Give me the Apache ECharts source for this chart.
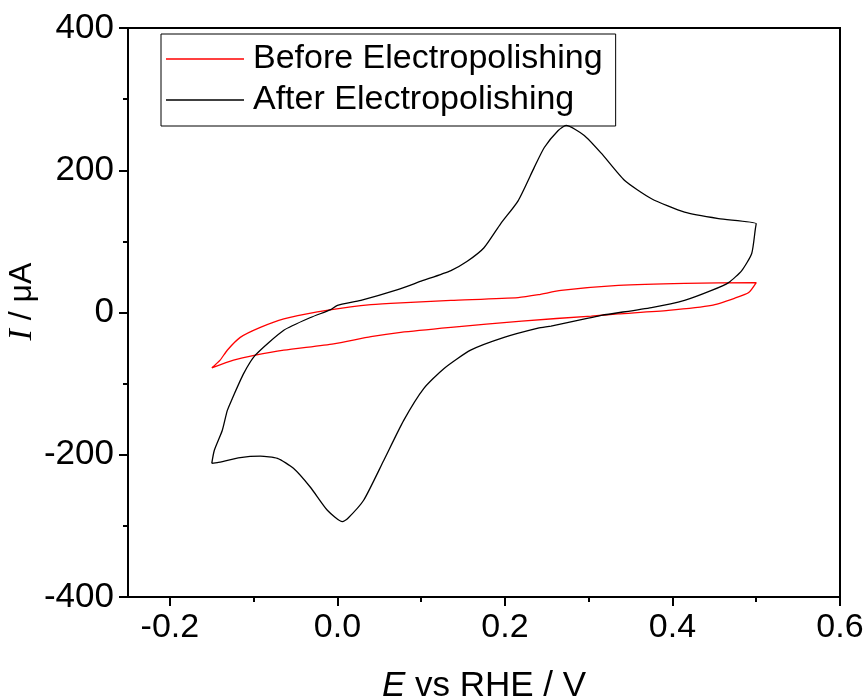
<!DOCTYPE html>
<html>
<head>
<meta charset="UTF-8">
<title>CV before / after electropolishing</title>
<script src="https://cdn.jsdelivr.net/npm/echarts@6/dist/echarts.min.js"></script>
<style>
  html, body { margin: 0; padding: 0; background: #fff; }
  #main { width: 865px; height: 700px; }
</style>
</head>
<body>
<div id="main"></div>
<script>
// potential (V vs RHE) and current (uA)
var beforeE = [-0.15, -0.14, -0.1315, -0.116, -0.092, -0.064, -0.024, 0.0158, 0.04, 0.0756, 0.1355, 0.2157, 0.24, 0.267, 0.3354, 0.4144, 0.5,
  0.491, 0.474, 0.4467, 0.395, 0.335, 0.303, 0.22, 0.1355, 0.0756, 0.04, -0.0046, -0.064, -0.098, -0.124, -0.15];
var beforeI = [-78, -67, -53, -35, -21, -9, 1, 8, 11, 13.5, 17, 21, 25, 31, 38, 41, 42,
  28, 20, 10, 3, -2, -5, -12, -21, -28, -34, -44, -53, -60, -67, -78];

var afterE = [-0.15, -0.147, -0.1375, -0.1315, -0.1255, -0.112, -0.098, -0.064, -0.032, -0.008, 0.0, 0.028, 0.072, 0.1, 0.1355, 0.155, 0.175, 0.195, 0.2157, 0.235, 0.247, 0.2636, 0.273, 0.2947, 0.315, 0.3426, 0.375, 0.4144, 0.455, 0.5,
  0.499, 0.4946, 0.4827, 0.467, 0.4467, 0.4144, 0.375, 0.315, 0.2995, 0.255, 0.2396, 0.199, 0.159, 0.127, 0.103, 0.079, 0.0553, 0.0313, 0.012, 0.006, -0.012, -0.032, -0.0525, -0.0716, -0.092, -0.116, -0.1434, -0.15];
var afterI = [-212, -194, -166, -138, -121, -86, -60, -25, -7, 4, 10, 17, 32, 44, 59, 72, 91, 125, 157, 204, 232, 256, 263, 249, 224, 186, 160, 141, 132, 125,
  118, 83, 59, 42, 31, 17, 7, -4, -8, -19, -22, -35, -53, -79, -107, -152, -208, -264, -290, -294, -278, -246, -219, -205, -202, -204, -211, -212];

var xMajor = [-0.2, 0.0, 0.2, 0.4, 0.6];
var xMinor = [-0.1, 0.1, 0.3, 0.5];

function pairs(xs, ys) {
  var out = [];
  for (var i = 0; i < xs.length; i++) out.push([xs[i], ys[i]]);
  return out;
}

var chart = echarts.init(document.getElementById('main'));

var option = {
  animation: false,
  backgroundColor: '#fff',
  grid: {
    left: 128, right: 25, top: 28, bottom: 103,
    outerBoundsMode: 'none',
    show: true, borderColor: '#000', borderWidth: 2
  },
  legend: {
    orient: 'vertical',
    left: 161, top: 34,
    padding: [8, 13, 9, 5],
    itemGap: 7,
    itemWidth: 78,
    itemHeight: 1.5,
    icon: 'rect',
    borderColor: '#000',
    borderWidth: 1,
    borderRadius: 0,
    textStyle: { fontFamily: 'Liberation Sans', fontSize: 34, color: '#000', lineHeight: 34, padding: [0, 0, 0, 4] },
    data: ['Before Electropolishing', 'After Electropolishing']
  },
  xAxis: [{
    type: 'value',
    min: -0.25, max: 0.6,
    position: 'bottom',
    axisLine: { onZero: false, lineStyle: { color: '#000', width: 2 } },
    axisTick: { customValues: xMajor, length: 9, lineStyle: { color: '#000', width: 2 } },
    axisLabel: {
      customValues: xMajor,
      margin: 14,
      fontFamily: 'Liberation Sans',
      fontSize: 34,
      color: '#000',
      formatter: function (v) { return v.toFixed(1); }
    },
    splitLine: { show: false },
    name: '{i|E} vs RHE / V',
    nameLocation: 'middle',
    nameGap: 72,
    nameTextStyle: {
      fontFamily: 'Liberation Sans', fontSize: 35, color: '#000',
      rich: { i: { fontFamily: 'Liberation Sans', fontStyle: 'italic', fontSize: 35, color: '#000' } }
    }
  }, {
    type: 'value',
    min: -0.25, max: 0.6,
    position: 'bottom',
    axisLine: { show: false, onZero: false },
    axisTick: { customValues: xMinor, length: 5, lineStyle: { color: '#000', width: 2 } },
    axisLabel: { show: false },
    splitLine: { show: false }
  }],
  yAxis: {
    type: 'value',
    min: -400, max: 400, interval: 200,
    axisLine: { show: true, onZero: false, lineStyle: { color: '#000', width: 2 } },
    axisTick: { show: true, length: 9, lineStyle: { color: '#000', width: 2 } },
    minorTick: { show: true, splitNumber: 2, length: 5, lineStyle: { color: '#000', width: 2 } },
    axisLabel: { margin: 14, fontFamily: 'Liberation Sans', fontSize: 35, color: '#000' },
    splitLine: { show: false },
    name: '{i|I} / μA',
    nameLocation: 'middle',
    nameGap: 89,
    nameMoveOverlap: false,
    nameTextStyle: {
      fontFamily: 'Liberation Sans', fontSize: 32, color: '#000',
      padding: [0, 0, 0, 22],
      rich: { i: { fontFamily: 'Liberation Serif', fontStyle: 'italic', fontSize: 34, color: '#000' } }
    }
  },
  series: [{
    name: 'Before Electropolishing',
    type: 'line',
    symbol: 'none',
    smooth: 0.2,
    data: pairs(beforeE, beforeI),
    lineStyle: { color: '#ff0000', width: 1.3 },
    itemStyle: { color: '#ff0000' }
  }, {
    name: 'After Electropolishing',
    type: 'line',
    symbol: 'none',
    smooth: 0.2,
    data: pairs(afterE, afterI),
    lineStyle: { color: '#000', width: 1.3 },
    itemStyle: { color: '#000' }
  }]
};

chart.setOption(option);
</script>
</body>
</html>
